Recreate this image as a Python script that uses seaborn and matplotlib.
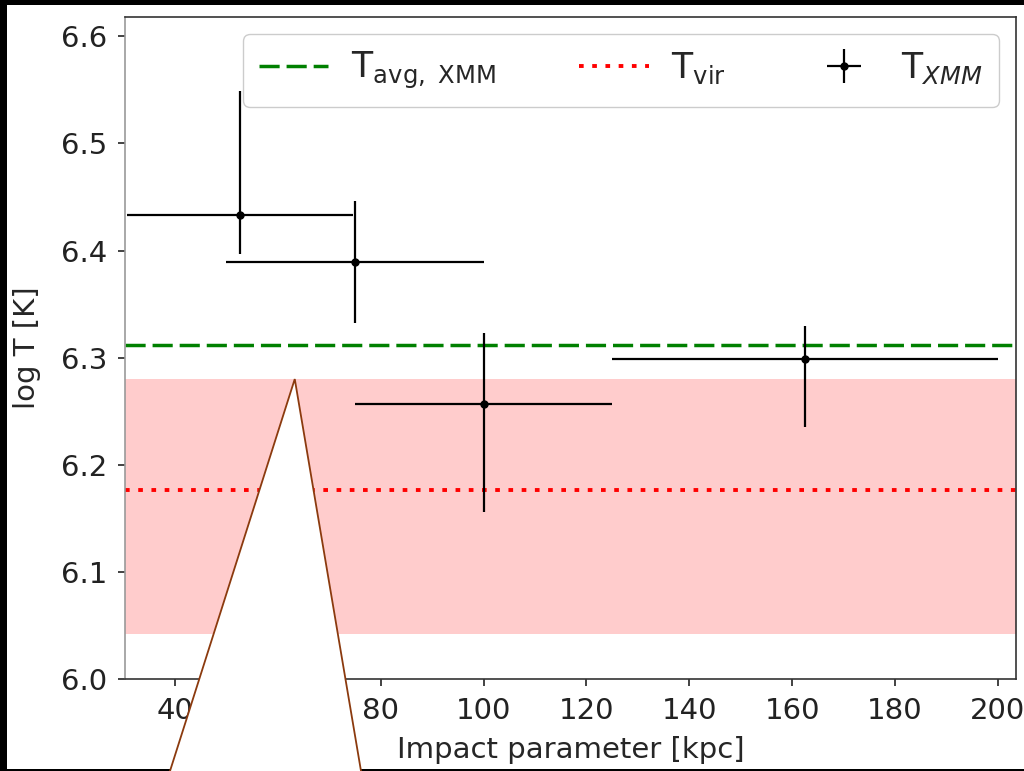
import numpy as np
import matplotlib
matplotlib.use("Agg")
import matplotlib.pyplot as plt
from matplotlib.patches import Polygon, Rectangle
from matplotlib.lines import Line2D
import seaborn as sns

# Temperature profile measurements
impact_kpc = [52.6, 75.0, 100.0, 162.5]
impact_err = [22.0, 25.0, 25.0, 37.5]
logT_xmm = [6.433, 6.389, 6.257, 6.299]
logT_err_lo = [0.036, 0.057, 0.101, 0.064]
logT_err_hi = [0.116, 0.057, 0.066, 0.031]

# Reference temperatures
logT_avg_xmm = 6.312
logT_vir = 6.176
logT_vir_range = [6.042, 6.280]

sns.set_style("ticks")
plt.rcParams["font.family"] = ["DejaVu Sans"]
plt.rcParams["mathtext.fontset"] = "dejavusans"
plt.rcParams["font.size"] = 21

fig = plt.figure(figsize=(10.24, 7.71), dpi=100)
fig.patch.set_facecolor("white")
ax = fig.add_axes([125 / 1024, 1 - 679 / 771, (1016 - 125) / 1024, (679 - 17) / 771])

ax.axhspan(logT_vir_range[0], logT_vir_range[1], color="red", alpha=0.2, lw=0)
ax.axhline(logT_avg_xmm, color="green", ls="--", lw=2.5, dashes=(5.8, 2.0),
           label=r"T$_{\mathrm{avg,\ XMM}}$")
ax.axhline(logT_vir, color="red", ls=":", lw=2.8, dashes=(1.2, 2.2),
           label=r"T$_{\mathrm{vir}}$")
ax.errorbar(impact_kpc, logT_xmm, xerr=impact_err,
            yerr=[logT_err_lo, logT_err_hi], fmt="o", color="black",
            ms=5, elinewidth=1.6, capsize=0, label=r"T$_{XMM}$")

ax.set_xlim(30.3, 203.5)
ax.set_ylim(6.0, 6.618)
ax.set_xticks([40, 80, 100, 120, 140, 160, 180, 200])
ax.set_yticks([6.0, 6.1, 6.2, 6.3, 6.4, 6.5, 6.6])
ax.set_xlabel("Impact parameter [kpc]", fontsize=21, labelpad=8)
ax.set_ylabel("log T [K]", fontsize=21, labelpad=14)
ax.tick_params(labelsize=21, length=5, width=1.2, colors="#222222", pad=8)
for s in ax.spines.values():
    s.set_linewidth(1.2)
    s.set_color("#333333")
ax.spines["left"].set_color("#999999")

ax.legend(loc="upper right", ncol=3, fontsize=25, handlelength=2.0,
          columnspacing=2.4, handletextpad=0.65, borderpad=0.45,
          framealpha=1, edgecolor="#cccccc")

# black frame strips along the figure edges
W, H = 1024, 771
for x0, y0, w, h in [(0, 0, 7, H), (0, H - 5, W, 5), (0, 0, W, 2)]:
    fig.add_artist(Rectangle((x0 / W, y0 / H), w / W, h / H,
                             transform=fig.transFigure, color="black", lw=0,
                             zorder=50))

# callout wedge pointing at the top of the virial band
fig.canvas.draw()
apex_disp = ax.transData.transform((63.3, logT_vir_range[1]))
ax_, ay_ = fig.transFigure.inverted().transform(apex_disp)
base_l = (170 / W, 0.0)
base_r = (361 / W, 0.0)


def extend(p, q, t=1.2):
    return (p[0] + (q[0] - p[0]) * t, p[1] + (q[1] - p[1]) * t)


ext_l = extend((ax_, ay_), base_l)
ext_r = extend((ax_, ay_), base_r)
wedge = Polygon([(ax_, ay_), ext_l, ext_r], closed=True,
                transform=fig.transFigure, facecolor="white",
                edgecolor="none", zorder=100, clip_on=False)
fig.add_artist(wedge)
outline = Line2D([ext_l[0], ax_, ext_r[0]], [ext_l[1], ay_, ext_r[1]],
                 transform=fig.transFigure, color="#8B3A0E", lw=1.3,
                 zorder=101, solid_joinstyle="miter")
fig.add_artist(outline)

fig.savefig("out.png", dpi=100)
